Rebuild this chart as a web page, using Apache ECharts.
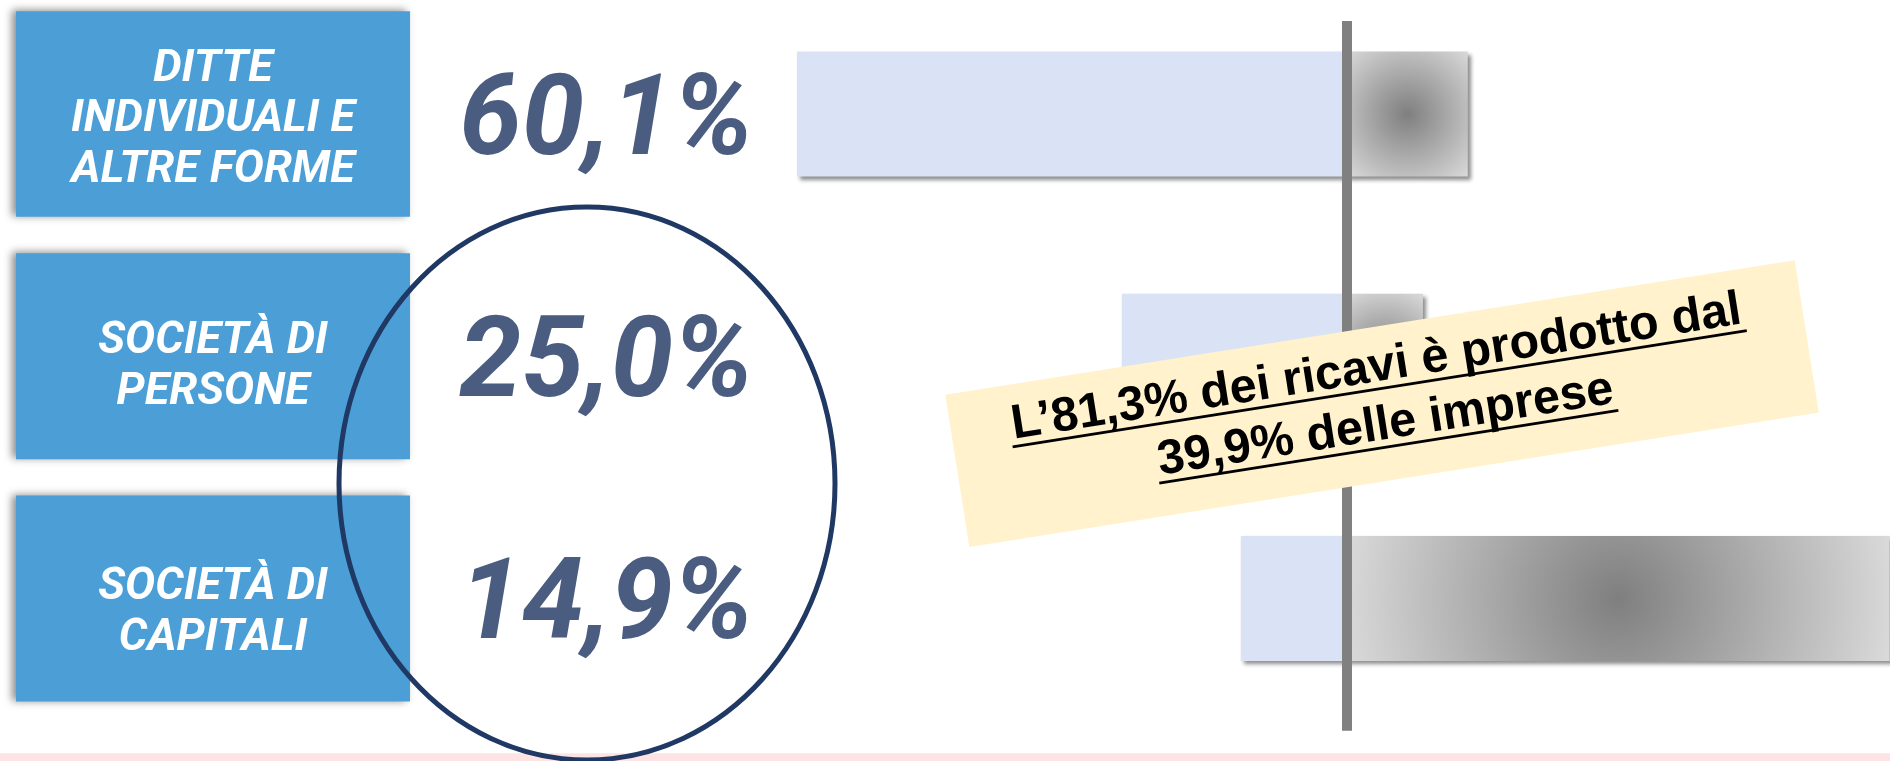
<!DOCTYPE html>
<html>
<head>
<meta charset="utf-8">
<script src="https://cdn.jsdelivr.net/npm/echarts@6/dist/echarts.min.js"></script>
<style>
html,body{margin:0;padding:0;background:#fff;}
#chart{width:1890px;height:761px;}
</style>
</head>
<body>
<div id="chart"></div>
<script>
// ---- data ----
var categories = ['DITTE\nINDIVIDUALI E\nALTRE FORME', 'SOCIETÀ DI\nPERSONE', 'SOCIETÀ DI\nCAPITALI'];
var shareLabels = ['60,1%', '25,0%', '14,9%'];
// bar lengths as drawn (left: imprese, right: ricavi), same scale
var impreseBar = [-60.1, -24.6, -11.6];
var ricaviBar = [13.2, 8.3, 59.3];
var noteLine1 = 'L\u201981,3% dei ricavi è prodotto dal';
var noteLine2 = '39,9% delle imprese';

// ---- styles ----
var gradRadius = [0.72, 0.96, 2.2];
var boxPadding = [[33, 0, 21, 0], [63.5, 0, 41.5, 0], [67, 0, 38, 0]];
function grayGrad(r) {
  return {
    type: 'radial', x: 0.5, y: 0.5, r: r,
    colorStops: [{offset: 0, color: '#7F7F7F'}, {offset: 1, color: '#D9D9D9'}]
  };
}
var barShadow = {shadowColor: 'rgba(0,0,0,0.45)', shadowBlur: 4, shadowOffsetX: 3, shadowOffsetY: 3};
var labelFont = 'Roboto, "Liberation Sans", sans-serif';

var chart = echarts.init(document.getElementById('chart'));
var gridLeft = 706.4, gridWidth = 1281.2;

var option = {
  backgroundColor: '#ffffff',
  animation: false,
  grid: [
    {left: gridLeft, width: gridWidth, top: -7.1, height: 726.75, outerBoundsMode: 'none', containLabel: false},
    {left: gridLeft, width: gridWidth, top: 21, height: 709.7, outerBoundsMode: 'none', containLabel: false}
  ],
  xAxis: [
    {type: 'value', gridIndex: 0, min: -70, max: 70, show: false},
    {type: 'value', gridIndex: 1, min: -70, max: 70, show: false}
  ],
  yAxis: [
    {
      type: 'category', gridIndex: 0, inverse: true, position: 'left',
      data: categories.map(function (c, i) {
        return {value: c, textStyle: {padding: boxPadding[i], align: 'center', verticalAlign: 'middle'}};
      }),
      axisLine: {show: false, onZero: false}, axisTick: {show: false}, splitLine: {show: false},
      axisLabel: {
        interval: 0, margin: 493.4, align: 'center', verticalAlign: 'middle',
        width: 394,
        backgroundColor: '#4B9FD6',
        formatter: function (v) {
          return v.split('\n').map(function (s) { return '{t|' + s + '}'; }).join('\n');
        },
        rich: {
          t: {
            color: '#ffffff', fontFamily: labelFont, fontStyle: 'italic', fontWeight: 'bold',
            fontSize: 45, lineHeight: 50.5, align: 'center'
          }
        },
        shadowColor: 'rgba(0,0,0,0.45)', shadowBlur: 8, shadowOffsetX: -4, shadowOffsetY: -1
      }
    },
    {
      type: 'category', gridIndex: 0, inverse: true, data: shareLabels, position: 'left',
      axisLine: {show: false, onZero: false}, axisTick: {show: false}, splitLine: {show: false},
      axisLabel: {
        interval: 0, margin: -47, align: 'right', verticalAlign: 'top', lineHeight: 23,
        color: '#4A5C80',
        fontFamily: labelFont,
        fontStyle: 'italic', fontWeight: 'bold', fontSize: 112
      }
    },
    {
      type: 'value', gridIndex: 1, min: 0, max: 1, z: 10,
      axisLine: {show: true, onZero: true, lineStyle: {color: '#808080', width: 10, cap: 'butt'}},
      axisTick: {show: false}, axisLabel: {show: false}, splitLine: {show: false}
    }
  ],
  series: [
    {
      name: 'Imprese', type: 'bar', xAxisIndex: 0, yAxisIndex: 0,
      barWidth: 125, barGap: '-100%',
      itemStyle: Object.assign({color: '#D9E3F5'}, barShadow),
      data: impreseBar
    },
    {
      name: 'Ricavi', type: 'bar', xAxisIndex: 0, yAxisIndex: 0,
      barWidth: 125, barGap: '-100%',
      itemStyle: barShadow,
      data: ricaviBar.map(function (v, i) {
        return {value: v, itemStyle: Object.assign({color: grayGrad(gradRadius[i])}, barShadow)};
      })
    }
  ],
  graphic: [
    {type: 'rect', z: 1, shape: {x: 0, y: 753.3, width: 1890, height: 8}, style: {fill: '#FDE3E3'}},
    {type: 'ellipse', z: 30, shape: {cx: 587, cy: 483.5, rx: 248, ry: 276.5},
     style: {fill: 'none', stroke: '#203864', lineWidth: 5}},
    {
      type: 'group', x: 1382, y: 403.6, rotation: 9 * Math.PI / 180, z: 40,
      children: [
        {type: 'rect', z: 40, shape: {x: -430, y: -77, width: 860, height: 154}, style: {fill: '#FFF2CC'}},
        {type: 'text', z: 41, x: 0, y: -36.3,
         style: {text: noteLine1, fill: '#000', align: 'center', verticalAlign: 'middle',
                 fontFamily: '"Liberation Sans", Arial, sans-serif', fontWeight: 'bold', fontSize: 48.5}},
        {type: 'text', z: 41, x: 0, y: 22.2,
         style: {text: noteLine2, fill: '#000', align: 'center', verticalAlign: 'middle',
                 fontFamily: '"Liberation Sans", Arial, sans-serif', fontWeight: 'bold', fontSize: 48.5}},
        {type: 'line', z: 41, shape: {x1: -371.6, y1: -15, x2: 371.7, y2: -15}, style: {stroke: '#000', lineWidth: 2.8}},
        {type: 'line', z: 41, shape: {x1: -232.4, y1: 43.6, x2: 232.4, y2: 43.6}, style: {stroke: '#000', lineWidth: 2.8}}
      ]
    }
  ]
};
chart.setOption(option);
</script>
</body>
</html>
